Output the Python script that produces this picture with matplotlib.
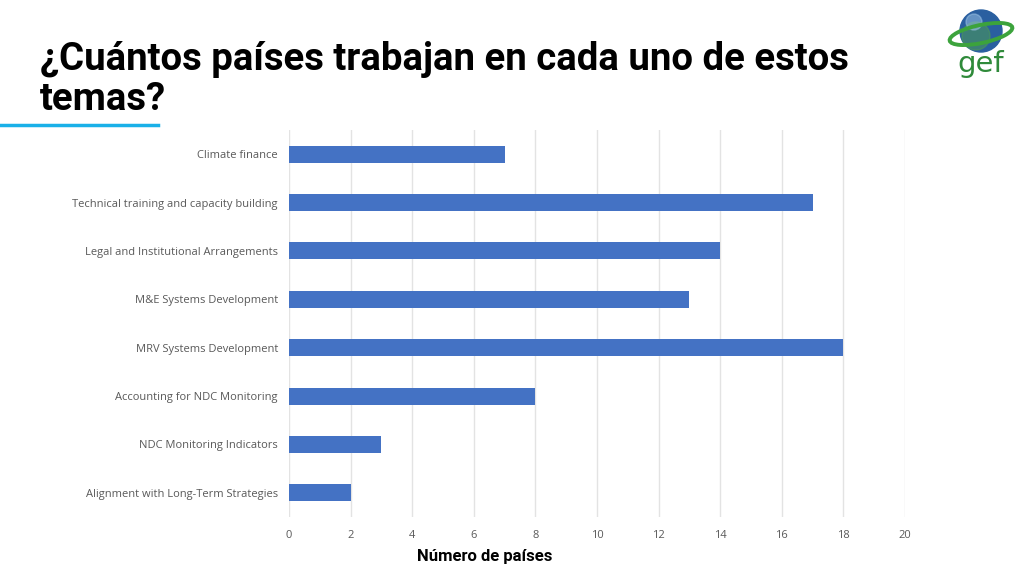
import matplotlib
matplotlib.use("Agg")
import matplotlib.pyplot as plt
import matplotlib.patches as mpatches
import numpy as np

categories = [
    "Climate finance",
    "Technical training and capacity building",
    "Legal and Institutional Arrangements",
    "M&E Systems Development",
    "MRV Systems Development",
    "Accounting for NDC Monitoring",
    "NDC Monitoring Indicators",
    "Alignment with Long-Term Strategies",
]
values = [7, 17, 14, 13, 18, 8, 3, 2]
xticks = list(range(0, 21, 2))

BAR = "#4472C4"
GRAY_TXT = "#595959"
GRID = "#E3E3E3"

fig = plt.figure(figsize=(10.24, 5.76), dpi=100)
fig.patch.set_facecolor("white")

# main bar chart
ax = fig.add_axes([289 / 1024, 1 - 517 / 576, (905 - 289) / 1024, (517 - 130) / 576])
y = np.arange(len(categories))
ax.barh(y, values, height=0.35, color=BAR, zorder=3)
ax.set_ylim(len(categories) - 0.5, -0.5)
ax.set_xlim(0, 20)
ax.set_xticks(xticks)
ax.set_yticks(y)
ax.set_yticklabels(categories, fontsize=8, color=GRAY_TXT, family="Open Sans")
ax.set_xticklabels([str(t) for t in xticks], fontsize=8, color=GRAY_TXT, family="Open Sans")
ax.tick_params(axis="x", length=0, pad=9)
ax.tick_params(axis="y", length=0, pad=8)
ax.grid(axis="x", color=GRID, linewidth=1.0, zorder=0)
for s in ax.spines.values():
    s.set_visible(False)

fig.text(485 / 1024, 1 - 557 / 576, "Número de países", ha="center", va="center",
         fontsize=12, fontweight="bold", family="Roboto", color="black")

# title
fig.text(40 / 1024, 1 - 70 / 576, "¿Cuántos países trabajan en cada uno de estos",
         ha="left", va="baseline", fontsize=27.6, fontweight="bold", family="Roboto", color="#000000")
fig.text(40 / 1024, 1 - 110 / 576, "temas?",
         ha="left", va="baseline", fontsize=27.6, fontweight="bold", family="Roboto", color="#000000")
fig.add_artist(plt.Line2D([0, 158 / 1024], [1 - 125 / 576, 1 - 125 / 576],
                          color="#1AB0E8", linewidth=2.5, transform=fig.transFigure))

# gef logo (rough sketch), drawn in pixel-like coordinates
lax = fig.add_axes([940 / 1024, 1 - 85 / 576, 80 / 1024, 85 / 576])
lax.set_xlim(940, 1020)
lax.set_ylim(85, 0)
lax.axis("off")
lax.add_patch(mpatches.Circle((981, 31), 21, color="#2A5FA0", zorder=2))
lax.add_patch(mpatches.Circle((976, 36), 14, color="#4C9A55", alpha=0.55, zorder=3))
lax.add_patch(mpatches.Circle((974, 22), 8, color="#9FC6E8", alpha=0.5, zorder=3))
lax.add_patch(mpatches.Ellipse((981, 34), 64, 18, angle=-12, fill=False,
                               edgecolor="#3CA33C", linewidth=2.8, zorder=4))
lax.text(981, 64, "gef", ha="center", va="center", fontsize=21,
         color="#2F8A3A", family="DejaVu Sans")

fig.savefig("out.png", dpi=100)
